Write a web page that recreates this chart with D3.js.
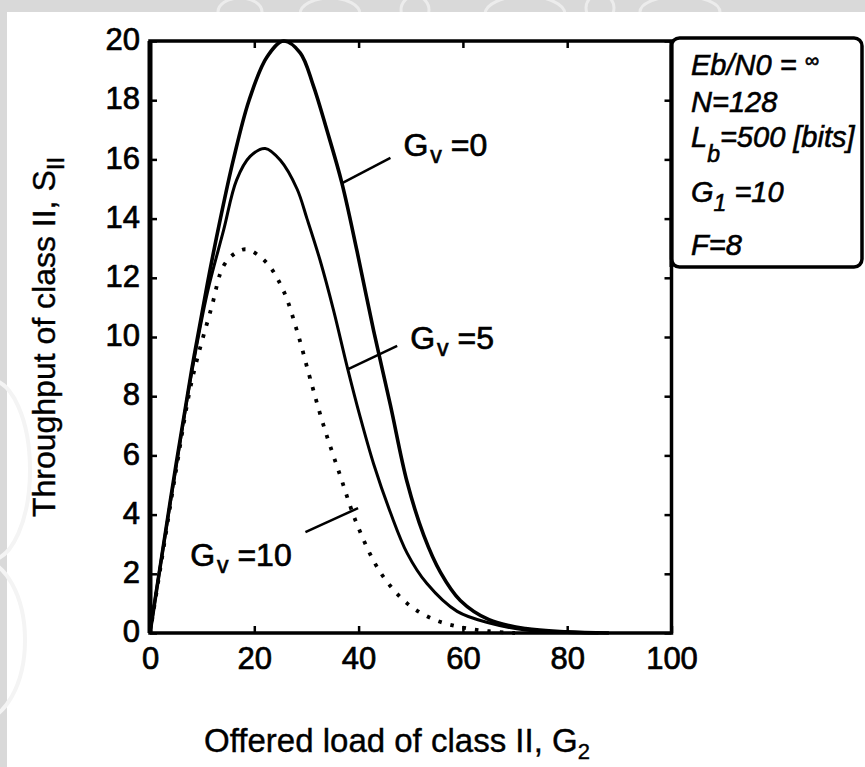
<!DOCTYPE html>
<html><head><meta charset="utf-8">
<script src="https://cdn.jsdelivr.net/npm/d3@7"></script>
<style>body{margin:0;background:#fff}svg{display:block}</style>
</head><body>
<svg id="chart" width="865" height="767"></svg>
<script>
// ---------- data ----------
const xTicks = [0, 20, 40, 60, 80, 100];
const yTicks = [0, 2, 4, 6, 8, 10, 12, 14, 16, 18, 20];

// Gv = 0 (thick solid)
const G_v0 = [0, 2, 5, 8, 11, 13.5, 16, 19, 22.4, 25.6, 28.8, 31.3, 33.9, 36.8, 39.7, 42.9, 46.1, 49.3, 52.5, 55.7, 59.5, 65, 72, 80, 88];
const S_v0 = [0, 2.3, 5.7, 8.9, 11.8, 14.0, 16.0, 18.0, 19.45, 20.0, 19.6, 18.5, 17.0, 15.2, 12.9, 10.2, 7.7, 5.1, 3.3, 2.05, 1.1, 0.45, 0.15, 0.04, 0];
// Gv = 5 (thin solid)
const G_v5 = [0, 2, 5, 8, 11, 14.1, 16.6, 19.2, 22.1, 25, 28.2, 30.1, 32.6, 35.2, 37.8, 40.3, 42.9, 46.1, 49.3, 53.1, 58.9, 65.3, 72, 80, 86];
const S_v5 = [0, 2.3, 5.6, 8.8, 11.5, 13.6, 15.3, 16.1, 16.37, 15.97, 15.0, 14.0, 12.6, 10.9, 9.0, 7.3, 5.7, 4.07, 2.7, 1.67, 0.73, 0.33, 0.1, 0.02, 0];
// Gv = 10 (dotted)
const G_v10 = [0, 2, 5, 8, 11.8, 14.1, 16.5, 18.6, 22.4, 25.6, 28.2, 30.7, 33.3, 36.5, 39.7, 44.1, 49.3, 54.4, 59.5, 65, 70];
const S_v10 = [0, 2.2, 5.5, 8.5, 11.0, 12.4, 12.85, 12.96, 12.5, 11.56, 10.2, 8.6, 7.0, 5.3, 3.67, 2.07, 1.0, 0.46, 0.2, 0.06, 0];

// curve annotations (data units): label anchor, leader start, leader end
const annLabels = ["0", "5", "10"];
const annText  = [[48.6, 16.1], [49.9, 9.6], [7.7, 2.25]];
const annFrom  = [[46.1, 16.05], [47.4, 9.7], [29.8, 3.41]];
const annTo    = [[36.85, 15.2], [37.8, 8.9], [39.9, 4.22]];

// parameter box lines
const boxLines = [
  [{t: "Eb/N0 = "}, {t: "\u221E", sup: true}],
  [{t: "N=128"}],
  [{t: "L"}, {t: "b", sub: true}, {t: "=500 [bits]"}],
  [{t: "G"}, {t: "1", sub: true}, {t: " =10"}],
  [{t: "F=8"}]
];

// ---------- layout ----------
const W = 865, H = 767;
const X0 = 150, X1 = 671.5, Y0 = 633, Y1 = 41;
const FONT = "'Liberation Sans', Arial, Helvetica, sans-serif";

const svg = d3.select("#chart");
svg.append("rect").attr("width", W).attr("height", H).attr("fill", "#d9d9d9");

// faint watermark strokes in the grey band
const wm = svg.append("g").attr("fill", "none").attr("stroke", "#ececec").attr("stroke-width", 3);
[[240, 12, 22, 14], [330, 14, 30, 16], [415, 10, 14, 14], [525, 14, 40, 18], [600, 8, 14, 14], [680, 12, 40, 16]].forEach(d => {
  wm.append("ellipse").attr("cx", d[0]).attr("cy", d[1]).attr("rx", d[2]).attr("ry", d[3]);
});
svg.append("rect").attr("x", 7).attr("y", 12).attr("width", W - 7).attr("height", H - 12).attr("fill", "#ffffff");
const wm2 = svg.append("g").attr("fill", "none").attr("stroke", "#f4f4f4").attr("stroke-width", 4);
[[-10, 470, 40, 90], [-20, 640, 45, 80]].forEach(d => {
  wm2.append("ellipse").attr("cx", d[0]).attr("cy", d[1]).attr("rx", d[2]).attr("ry", d[3]);
});

const x = d3.scaleLinear().domain([0, 100]).range([X0, X1]);
const y = d3.scaleLinear().domain([0, 20]).range([Y0, Y1]);

// axes (inward ticks)
function styleAxis(g) {
  g.select(".domain").remove();
  g.selectAll(".tick line").attr("stroke", "#000").attr("stroke-width", 2.5);
  g.selectAll(".tick text").attr("fill", "#000").attr("font-family", FONT).attr("font-size", 31)
    .attr("stroke", "#000").attr("stroke-width", 0.7);
}
svg.append("g").attr("transform", `translate(${X0},0)`)
  .call(d3.axisLeft(y).tickValues(yTicks).tickSizeInner(-7).tickSizeOuter(0).tickPadding(10).tickFormat(d3.format("d")))
  .call(styleAxis).selectAll(".tick text").attr("dy", "0.28em");
svg.append("g").attr("transform", `translate(0,${Y0})`)
  .call(d3.axisBottom(x).tickValues(xTicks).tickSizeInner(-7).tickSizeOuter(0).tickPadding(14).tickFormat(d3.format("d")))
  .call(styleAxis);
svg.append("g").attr("transform", `translate(${X1},0)`)
  .call(d3.axisRight(y).tickValues(yTicks).tickSizeInner(-7).tickSizeOuter(0).tickFormat(""))
  .call(styleAxis);
svg.append("g").attr("transform", `translate(0,${Y1})`)
  .call(d3.axisTop(x).tickValues(xTicks).tickSizeInner(-7).tickSizeOuter(0).tickFormat(""))
  .call(styleAxis);

// frame
svg.append("rect").attr("x", X0).attr("y", Y1).attr("width", X1 - X0).attr("height", Y0 - Y1)
  .attr("fill", "none").attr("stroke", "#000").attr("stroke-width", 3.5);
svg.append("line").attr("x1", X0).attr("x2", X0).attr("y1", Y1).attr("y2", Y0)
  .attr("stroke", "#000").attr("stroke-width", 5);

// curves
const line = d3.line().x(d => x(d[0])).y(d => y(Math.max(0, d[1]))).curve(d3.curveCatmullRom.alpha(0.5));
const series = [
  {g: G_v0, s: S_v0, w: 3.6, dash: null},
  {g: G_v5, s: S_v5, w: 3.0, dash: null},
  {g: G_v10, s: S_v10, w: 3.8, dash: "3.5,9"}
];
series.forEach(sr => {
  const pts = sr.g.map((g, i) => [g, sr.s[i]]);
  svg.append("path").datum(pts).attr("d", line).attr("fill", "none")
    .attr("stroke", "#000").attr("stroke-width", sr.w)
    .attr("stroke-dasharray", sr.dash).attr("stroke-linejoin", "round");
});

// annotations
annLabels.forEach((lab, i) => {
  svg.append("line")
    .attr("x1", x(annFrom[i][0])).attr("y1", y(annFrom[i][1]))
    .attr("x2", x(annTo[i][0])).attr("y2", y(annTo[i][1]))
    .attr("stroke", "#000").attr("stroke-width", 2.5);
  const t = svg.append("text").attr("x", x(annText[i][0])).attr("y", y(annText[i][1]))
    .attr("font-family", FONT).attr("font-size", 32).attr("fill", "#000")
    .attr("stroke", "#000").attr("stroke-width", 0.7);
  t.append("tspan").text("G");
  t.append("tspan").attr("font-size", 23).attr("dy", 7).attr("dx", 2).text("v");
  t.append("tspan").attr("dy", -7).text(" =" + lab);
});

// axis titles
const xt = svg.append("text").attr("x", 397).attr("y", 752).attr("text-anchor", "middle")
  .attr("font-family", FONT).attr("font-size", 33).attr("fill", "#000")
  .attr("stroke", "#000").attr("stroke-width", 0.4);
xt.append("tspan").text("Offered load of class II, G");
xt.append("tspan").attr("font-size", 22).attr("dy", 7).text("2");

const yt = svg.append("text").attr("transform", `translate(55,${(Y0 + Y1) / 2}) rotate(-90)`)
  .attr("text-anchor", "middle").attr("font-family", FONT).attr("font-size", 32).attr("fill", "#000")
  .attr("stroke", "#000").attr("stroke-width", 0.4);
yt.append("tspan").text("Throughput of class II, S");
yt.append("tspan").attr("font-size", 24).attr("dy", 9).text("II");

// parameter box
svg.append("rect").attr("x", X1).attr("y", 38).attr("width", 862 - X1).attr("height", 229)
  .attr("rx", 8).attr("fill", "#fff").attr("stroke", "#000").attr("stroke-width", 3.5);
svg.append("line").attr("x1", X1).attr("x2", X1).attr("y1", Y1).attr("y2", 267)
  .attr("stroke", "#000").attr("stroke-width", 4);
const baselines = [75, 112, 147, 202, 255];
boxLines.forEach((parts, i) => {
  const t = svg.append("text").attr("x", 691).attr("y", baselines[i])
    .attr("font-family", FONT).attr("font-size", 29).attr("font-style", "italic").attr("fill", "#000")
    .attr("stroke", "#000").attr("stroke-width", 0.6);
  parts.forEach((p, j) => {
    const ts = t.append("tspan").text(p.t);
    const prevSub = j > 0 && parts[j - 1].sub;
    const subShift = q => (q.t === "b" ? 15 : 9);
    if (p.sub) { ts.attr("font-size", 23).attr("dy", subShift(p)); }
    else if (p.sup) { ts.attr("font-size", 20).attr("dy", -8); }
    else if (prevSub) { ts.attr("dy", -subShift(parts[j - 1])); }
  });
});
</script>
</body></html>
